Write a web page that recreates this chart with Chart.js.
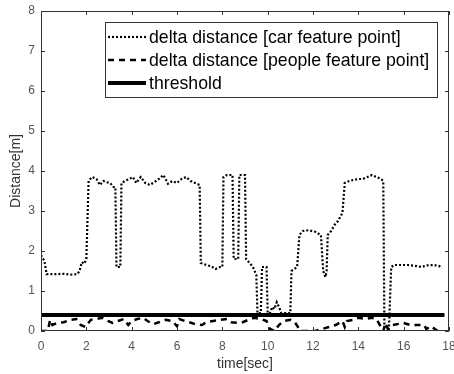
<!DOCTYPE html>
<html lang="en">
<head>
  <meta charset="UTF-8">
  <title>Delta distance</title>
  <script src="https://cdn.jsdelivr.net/npm/chart.js"></script>
  <style>
    html, body { margin: 0; padding: 0; background: #fff; }
  </style>
</head>
<body>
  <canvas id="distChart" width="454" height="374"></canvas>

  <script>
    // delta distance of the car feature point, time [sec] / distance [m]
    const carTime = [0, 0.15, 0.25, 0.6, 1.0, 1.3, 1.6, 1.7, 1.8, 1.9, 2.0, 2.1, 2.25, 2.45, 2.6, 2.75, 2.9, 3.05, 3.2, 3.28,
      3.33, 3.5, 3.55, 3.7, 3.9, 4.05, 4.2, 4.4, 4.6, 4.8, 5.0, 5.2, 5.4, 5.6, 5.8, 6.0, 6.2, 6.4, 6.6, 6.8,
      7.0, 7.05, 7.3, 7.5, 7.7, 7.9, 8.0, 8.05, 8.2, 8.45, 8.5, 8.7, 8.75, 9.0, 9.05, 9.2, 9.35, 9.5, 9.55, 9.7,
      9.75, 9.95, 10.0, 10.1, 10.2, 10.3, 10.4, 10.5, 10.6, 11.0, 11.05, 11.3, 11.4, 11.55, 11.8, 12.1, 12.35, 12.45, 12.55, 12.6,
      12.65, 12.8, 12.95, 13.1, 13.3, 13.4, 13.6, 13.8, 14.0, 14.2, 14.4, 14.6, 14.8, 15.0, 15.1, 15.15, 15.35, 15.45, 15.6, 15.9,
      16.2, 16.5, 16.8, 17.0, 17.3, 17.55, 17.7];
    const carDist = [1.9, 1.75, 1.42, 1.42, 1.43, 1.41, 1.42, 1.5, 1.72, 1.68, 1.8, 3.75, 3.85, 3.8, 3.65, 3.75, 3.72, 3.7, 3.6, 3.6,
      1.6, 1.6, 3.7, 3.75, 3.8, 3.85, 3.7, 3.85, 3.7, 3.65, 3.72, 3.8, 3.9, 3.68, 3.75, 3.7, 3.8, 3.85, 3.75, 3.7,
      3.65, 1.7, 1.65, 1.62, 1.55, 1.6, 1.6, 3.85, 3.9, 3.9, 1.8, 1.8, 3.9, 3.9, 1.8, 1.7, 1.6, 1.4, 0.45, 0.45,
      1.6, 1.6, 0.45, 0.45, 0.6, 0.55, 0.72, 0.6, 0.45, 0.45, 1.5, 1.6, 2.4, 2.5, 2.52, 2.48, 2.4, 1.5, 1.35, 1.5,
      2.4, 2.5, 2.65, 2.75, 2.95, 3.7, 3.75, 3.78, 3.8, 3.8, 3.85, 3.9, 3.85, 3.8, 3.75, 0.1, 0.05, 1.6, 1.65, 1.65,
      1.65, 1.63, 1.6, 1.64, 1.65, 1.63, 1.58];

    // delta distance of the people feature point
    const peopleTime = [0, 0.3, 0.4, 0.5, 0.7, 1.0, 1.3, 1.55, 1.75, 1.95, 2.2, 2.45, 2.7, 2.95, 3.15, 3.4, 3.65, 3.85, 4.0, 4.25,
      4.5, 4.7, 4.95, 5.2, 5.5, 5.8, 6.0, 6.1, 6.3, 6.55, 6.8, 7.1, 7.3, 7.6, 7.9, 8.2, 8.4, 8.7, 8.9, 9.15,
      9.4, 9.7, 9.95, 10.1, 10.3, 10.5, 10.7, 11.0, 11.2, 11.45, 11.8, 12.1, 12.4, 12.7, 13.0, 13.3, 13.4, 13.5, 13.8, 14.0,
      14.3, 14.6, 14.8, 15.1, 15.2, 15.3, 15.5, 15.8, 16.0, 16.3, 16.6, 16.9, 17.0, 17.2, 17.5, 17.7];
    const peopleDist = [0.0, 0.0, 0.28, 0.15, 0.2, 0.22, 0.28, 0.3, 0.15, 0.1, 0.28, 0.3, 0.33, 0.25, 0.2, 0.25, 0.3, 0.15, 0.25, 0.3,
      0.33, 0.25, 0.17, 0.22, 0.28, 0.25, 0.12, 0.3, 0.26, 0.22, 0.17, 0.15, 0.22, 0.25, 0.28, 0.3, 0.22, 0.2, 0.22, 0.28,
      0.33, 0.3, 0.25, 0.05, 0.0, 0.15, 0.25, 0.28, 0.22, 0.0, 0.0, 0.0, 0.05, 0.1, 0.15, 0.25, 0.1, 0.25, 0.28, 0.33,
      0.3, 0.33, 0.3, 0.0, 0.2, 0.05, 0.15, 0.18, 0.2, 0.15, 0.15, 0.15, 0.05, 0.12, 0.0, 0.0];

    // threshold line
    const thresholdTime = [0, 17.8];
    const thresholdDist = [0.4, 0.4];

    const xTicks = [0, 2, 4, 6, 8, 10, 12, 14, 16, 18];
    const yTicks = [0, 1, 2, 3, 4, 5, 6, 7, 8];
    const seriesNames = ['delta distance [car feature point]', 'delta distance [people feature point]', 'threshold'];

    const toPoints = (xs, ys) => xs.map((x, i) => ({ x: x, y: ys[i] }));

    Chart.defaults.font.family = '"Liberation Sans", Arial, sans-serif';
    Chart.defaults.color = '#555';

    // frame box, inward tick marks and the legend box inside the axes
    const matlabLook = {
      id: 'matlabLook',
      afterDatasetsDraw(chart) {
        const ctx = chart.ctx;
        const a = chart.chartArea;
        const xs = chart.scales.x;
        const ys = chart.scales.y;
        ctx.save();
        ctx.strokeStyle = '#333';
        ctx.lineWidth = 1;
        ctx.strokeRect(a.left + 0.5, a.top + 0.5, a.right - a.left - 1, a.bottom - a.top - 1);
        ctx.beginPath();
        xTicks.forEach(v => {
          const px = Math.round(xs.getPixelForValue(v)) + 0.5;
          ctx.moveTo(px, a.bottom); ctx.lineTo(px, a.bottom - 4);
          ctx.moveTo(px, a.top); ctx.lineTo(px, a.top + 4);
        });
        yTicks.forEach(v => {
          const py = Math.round(ys.getPixelForValue(v)) + 0.5;
          ctx.moveTo(a.left, py); ctx.lineTo(a.left + 4, py);
          ctx.moveTo(a.right, py); ctx.lineTo(a.right - 4, py);
        });
        ctx.stroke();

        // legend
        const lx = 105, ly = 22, lw = 332, lh = 75;
        ctx.fillStyle = '#fff';
        ctx.fillRect(lx, ly, lw, lh);
        ctx.strokeStyle = '#333';
        ctx.strokeRect(lx + 0.5, ly + 0.5, lw, lh);
        ctx.font = '17.7px "Liberation Sans", Arial, sans-serif';
        ctx.textBaseline = 'middle';
        chart.data.datasets.forEach((ds, i) => {
          const cy = ly + 15 + i * 23;
          ctx.strokeStyle = '#000';
          ctx.lineWidth = ds.borderWidth;
          ctx.setLineDash(ds.borderDash || []);
          ctx.beginPath();
          ctx.moveTo(lx + 3, cy);
          ctx.lineTo(lx + 41, cy);
          ctx.stroke();
          ctx.setLineDash([]);
          ctx.fillStyle = '#000';
          ctx.fillText(ds.label, lx + 44, cy + 1);
        });
        ctx.restore();
      }
    };

    const distCtx = document.getElementById('distChart').getContext('2d');
    const distChart = new Chart(distCtx, {
      type: 'line',
      data: {
        datasets: [{
          label: seriesNames[0],
          data: toPoints(carTime, carDist),
          borderColor: '#000',
          borderWidth: 2.2,
          borderDash: [2, 2],
          pointRadius: 0,
          tension: 0,
          order: 2
        }, {
          label: seriesNames[1],
          data: toPoints(peopleTime, peopleDist),
          borderColor: '#000',
          borderWidth: 2.5,
          borderDash: [6, 5],
          pointRadius: 0,
          tension: 0,
          order: 1
        }, {
          label: seriesNames[2],
          data: toPoints(thresholdTime, thresholdDist),
          borderColor: '#000',
          borderWidth: 4,
          pointRadius: 0,
          tension: 0,
          order: 0
        }]
      },
      options: {
        responsive: false,
        animation: false,
        layout: { padding: { left: 0, right: 5, top: 11, bottom: 0 } },
        plugins: { legend: { display: false }, tooltip: { enabled: false } },
        scales: {
          x: {
            type: 'linear',
            min: 0, max: 18,
            afterBuildTicks: s => { s.ticks = xTicks.map(v => ({ value: v })); },
            afterFit: s => { s.height = 43; s.paddingLeft = 0; s.paddingRight = 0; },
            grid: { display: false, drawTicks: false },
            border: { display: false },
            ticks: { padding: 8, font: { size: 12 }, maxRotation: 0 },
            title: { display: true, text: 'time[sec]', font: { size: 14 }, color: '#333', padding: { top: 0, bottom: 1 } }
          },
          y: {
            min: 0, max: 8,
            afterBuildTicks: s => { s.ticks = yTicks.map(v => ({ value: v })); },
            afterFit: s => { s.width = 41; s.paddingTop = 0; s.paddingBottom = 0; },
            grid: { display: false, drawTicks: false },
            border: { display: false },
            ticks: { padding: 6, font: { size: 12 } },
            title: { display: true, text: 'Distance[m]', font: { size: 14 }, color: '#333', padding: { top: 8, bottom: 0 } }
          }
        }
      },
      plugins: [matlabLook]
    });
  </script>
</body>
</html>
